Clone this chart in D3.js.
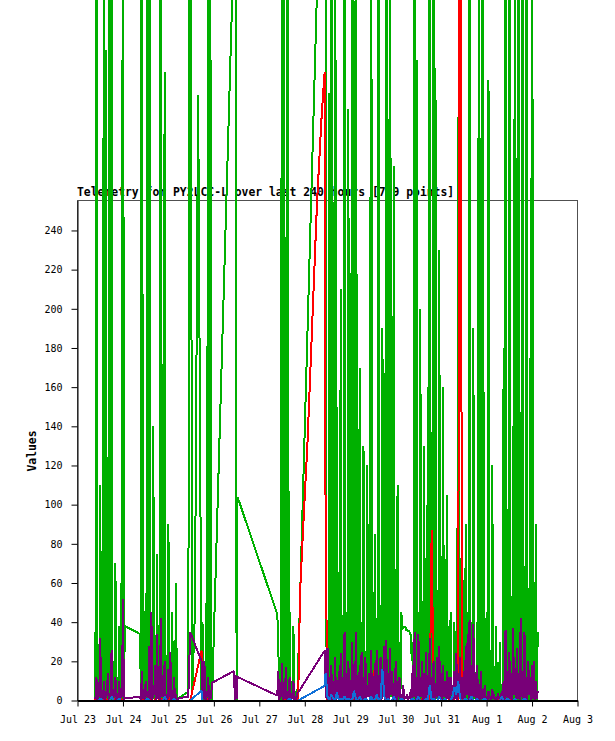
<!DOCTYPE html>
<html><head><meta charset="utf-8">
<script src="https://cdn.jsdelivr.net/npm/d3@7"></script>
<style>html,body{margin:0;padding:0;background:#fff;} svg{display:block;}</style>
</head><body><svg id="c" width="615" height="741"></svg>
<script>
// hours after Jul 23 00:00 (samples of all channels)
const hours = [
  9,10,11,12,13,14,15,16,17,18,19,20,21,22,23,24,25,
  33,34,35,36,37,38,39,40,41,42,43,44,45,46,47,48,49,50,51,52,53,
  58.5,59.5,60.5,62,63.7,65.5,
  66,67,68,69,70,71,
  82.5,83.2,83.5,84,84.5,
  105.5,
  106,107,108,109,110,111,112,113,114,115,116,
  116.5,117.5,119.5,121.5,126.5,129,130.5,
  131,132,133,134,135,136,137,138,139,140,
  141,142,143,144,145,146,147,148,149,150,
  151,152,153,154,155,156,157,158,159,160,
  161,162,163,164,165,166,167,168,169,170,
  171,172,173,174,175,176,177,178,179,180,
  181,182,183,184,185,186,187,188,189,190,
  191,192,193,194,195,196,197,198,199,200,
  201,202,203,204,205,206,207,208,209,210,
  211,212,213,214,215,216,217,218,219,220,
  221,222,223,224,225,226,227,228,229,230,
  231,232,233,234,235,236,237,238,239,240,
  241,242,243
];
// channel 1 (green)
const ch1 = [
  35,600,10,110,5,600,332,20,600,600,20,70,8,38,60,600,38,
  34,600,20,55,600,600,15,140,10,75,25,600,30,321,12,90,20,45,8,60,1,
  4.5,600,3,45,309,0,
  40,5,50,600,600,0,
  null,null,420,0,104,
  44,
  30,20,600,600,10,600,45,10,38,5,0,
  null,null,null,null,null,null,null,
  520,35,310,600,40,600,150,8,210,42,
  600,45,302,18,600,339,600,48,170,40,
  130,15,120,38,600,50,85,42,600,5,
  190,48,600,35,600,42,273,18,110,30,
  45,38,38,36,36,34,30,600,327,45,
  200,42,130,3,160,600,40,600,323,44,
  230,6,160,45,105,38,45,8,40,30,
  298,42,140,8,90,45,600,40,190,5,
  40,600,30,600,20,45,317,10,120,5,
  38,3,30,5,180,600,40,600,45,140,
  600,8,600,48,600,50,600,12,175,600,
  40,90,35
];
// channel 2 (red)
const ch2 = [
  0,1,0,0,2,0,1,0,0,9,0,1,0,0,1,0,0,
  0,0,1,0,0,2,0,0,0,5,0,0,1,0,0,0,3,0,0,0,0,
  0,0,null,null,null,25.5,
  0,0,0,1,0,0,
  0,null,null,null,0,
  0,
  0,0,0,1,0,0,0,0,0,0,0,
  0,55,95,133,255,300,321,
  80,0,1,0,5,0,0,0,1,0,
  0,0,0,0,2,0,10,0,0,0,
  0,1,0,0,0,0,19,0,0,0,
  0,0,0,0,0,0,0,0,0,0,
  0,0,0,0,0,0,0,0,0,0,
  0,1,0,0,0,0,87,0,0,0,
  0,0,0,0,0,0,1,0,0,14,
  0,600,0,0,0,0,0,0,0,0,
  0,0,0,0,0,0,0,0,0,0,
  0,2,0,0,0,0,0,0,3,0,
  0,0,0,0,0,0,0,0,0,0,
  0,0,0
];
// channel 3 (purple)
const ch3 = [
  2,12,3,32,5,10,2,14,4,26,6,12,1,10,3,52,1,
  2,15,3,10,5,28,45,6,18,34,4,42,12,20,3,16,25,5,12,3,1,
  2,35,null,null,null,20,
  5,20,2,12,3,9,
  15,0,13,1,12,
  2.5,
  15,3,19,5,17,2,12,4,10,2,4,
  4,null,null,null,null,null,25.5,
  10,27,12,18,10,22,8,15,24,12,
  35,14,20,10,30,12,35,9,18,25,
  12,22,8,14,26,11,19,26,13,22,
  12,28,31,14,27,15,9,20,10,12,
  3,8,2,3,2,6,18,35,12,34,
  12,20,14,25,13,32,12,20,9,22,
  28,14,18,10,15,12,12,8,15,24,
  14,22,12,15,28,34,41,18,39,14,
  18,4,15,3,8,2,5,2,6,3,
  1,4,1,5,10,36,15,25,14,37,
  15,27,14,42,15,35,12,20,12,18,
  20,10,5
];
// channel 4 (blue)
const ch4 = [
  0,0,0,1,0,0,0,0,0,2,0,0,0,1,0,0,0,
  0,0,0,0,1,0,0,0,0,0,0,0,0,2,0,0,0,0,1,0,0,
  0,0,null,null,null,5,
  0,0,0,0,0,0,
  0,null,null,null,0,
  0,
  0,0,0,0,0,0,1,0,0,0,0,
  0,null,null,null,null,null,7.5,
  14,2,0,3,1,0,4,0,1,0,
  2,0,1,0,0,5,1,0,2,0,
  0,1,0,0,2,0,0,3,0,1,
  16,2,0,1,0,0,2,0,0,0,
  1,0,0,0,0,0,1,0,0,2,
  0,0,0,1,0,8,0,1,0,0,
  2,0,0,1,0,0,0,2,7,3,
  10,1,0,0,1,0,0,2,0,0,
  1,0,0,0,1,0,0,0,0,0,
  0,0,0,2,0,0,1,0,0,0,
  1,0,0,0,0,1,0,0,0,0,
  0,0,0
];
// extra half-hour samples reported only by channels 1 and 3
const halfHours = [
  9.5,10.5,11.5,12.5,13.5,14.5,15.5,16.5,17.5,18.5,19.5,20.5,21.5,22.5,23.5,24.5,
  33.5,34.5,35.5,36.5,37.5,38.5,39.5,40.5,41.5,42.5,43.5,44.5,45.5,46.5,47.5,48.5,49.5,50.5,51.5,52.5,
  66.5,67.5,68.5,69.5,70.5,
  106.5,107.5,108.5,109.5,110.5,111.5,112.5,113.5,114.5,115.5,
  131.5,132.5,133.5,134.5,135.5,136.5,137.5,138.5,139.5,140.5,
  141.5,142.5,143.5,144.5,145.5,146.5,147.5,148.5,149.5,150.5,
  151.5,152.5,153.5,154.5,155.5,156.5,157.5,158.5,159.5,160.5,
  161.5,162.5,163.5,164.5,165.5,166.5,167.5,168.5,169.5,170.5,
  171.5,172.5,173.5,174.5,175.5,176.5,177.5,178.5,179.5,180.5,
  181.5,182.5,183.5,184.5,185.5,186.5,187.5,188.5,189.5,190.5,
  191.5,192.5,193.5,194.5,195.5,196.5,197.5,198.5,199.5,200.5,
  201.5,202.5,203.5,204.5,205.5,206.5,207.5,208.5,209.5,210.5,
  211.5,212.5,213.5,214.5,215.5,216.5,217.5,218.5,219.5,220.5,
  221.5,222.5,223.5,224.5,225.5,226.5,227.5,228.5,229.5,230.5,
  231.5,232.5,233.5,234.5,235.5,236.5,237.5,238.5,239.5,240.5,
  241.5,242.5
];
const ch1Half = [
  0,2,1,0,3,1,0,2,0,1,0,3,0,2,1,0,
  1,0,2,0,1,3,0,1,0,2,0,1,0,3,0,1,2,0,1,0,
  0,2,1,0,1,
  1,0,2,0,1,3,0,1,0,2,
  2,0,1,0,3,0,1,2,0,1,
  0,2,0,1,0,3,0,1,2,0,
  1,0,2,0,1,0,3,0,1,0,
  2,0,1,0,2,0,1,3,0,1,
  36,37,36,35,34,20,1,0,2,0,
  1,0,2,0,1,0,3,0,1,0,
  2,0,1,0,3,0,1,0,2,0,
  1,0,2,0,1,0,3,0,1,0,
  0,2,0,1,0,3,0,1,0,2,
  0,1,0,2,0,1,0,3,0,1,
  2,0,1,0,3,0,1,0,2,0,
  1,0
];
const ch3Half = [
  1,0,2,0,1,0,3,0,1,0,2,0,1,0,2,0,
  0,1,0,2,0,1,0,3,0,1,0,2,0,1,0,2,0,1,0,0,
  1,0,2,0,1,
  0,2,0,1,0,3,0,1,0,0,
  1,0,2,0,1,0,3,0,1,0,
  2,0,1,0,3,0,1,0,2,0,
  1,0,2,0,1,0,3,0,1,0,
  2,0,1,0,3,0,1,0,2,0,
  1,0,1,0,1,0,2,0,1,0,
  2,0,1,0,3,0,1,0,2,0,
  1,0,2,0,1,0,3,0,1,0,
  2,0,1,0,3,0,1,0,2,0,
  1,0,1,0,1,0,1,0,1,0,
  0,1,0,1,0,2,0,1,0,3,
  0,1,0,2,0,1,0,3,0,1,
  0,1
];
const xTickLabels = ["Jul 23","Jul 24","Jul 25","Jul 26","Jul 27","Jul 28","Jul 29","Jul 30","Jul 31","Aug 1","Aug 2","Aug 3"];
const yTickValues = [0,20,40,60,80,100,120,140,160,180,200,220,240];
const titleText = "Telemetry for PY2LCC-L over last 240 hours [769 points]";
const yLabel = "Values";

const seriesList = [
  {values: ch1, half: ch1Half, color: "#00b000"},
  {values: ch2, half: null, color: "#ff0000"},
  {values: ch3, half: ch3Half, color: "#780078"},
  {values: ch4, half: null, color: "#1070d8"}
];

const svg = d3.select("#c");
const t0 = Date.UTC(2024, 6, 23);
const parse = d3.utcParse("%b %e %Y");
const tickDates = xTickLabels.map(l => parse(l + " 2024"));
const x = d3.scaleUtc().domain([tickDates[0], tickDates[tickDates.length - 1]]).range([77.5, 577.5]);
const y = d3.scaleLinear().domain([0, 255.3]).range([700.5, 200.5]);
const mono = "'DejaVu Sans Mono', 'Liberation Mono', monospace";

svg.append("text").attr("x", 77).attr("y", 196)
  .attr("font-family", mono).attr("font-weight", "bold").attr("font-size", 11.4)
  .attr("fill", "#000").text(titleText);

svg.append("rect").attr("x", 77.5).attr("y", 200.5).attr("width", 500).attr("height", 500)
  .attr("fill", "none").attr("stroke", "#505050").attr("stroke-width", 1);

svg.append("text").attr("transform", "translate(36,451) rotate(-90)")
  .attr("text-anchor", "middle")
  .attr("font-family", mono).attr("font-weight", "bold").attr("font-size", 11.4)
  .attr("fill", "#000").text(yLabel);

const line = d3.line().x(d => x(d.t)).y(d => y(d.v));
seriesList.forEach(s => {
  const pts = [];
  hours.forEach((h, i) => {
    const v = s.values[i];
    if (v !== null && v !== undefined) pts.push({h: h, v: v});
  });
  if (s.half) halfHours.forEach((h, i) => pts.push({h: h, v: s.half[i]}));
  pts.sort((a, b) => a.h - b.h);
  pts.forEach(p => p.t = new Date(t0 + p.h * 3600e3));
  svg.append("path").datum(pts).attr("d", line)
    .attr("fill", "none").attr("stroke", s.color).attr("stroke-width", 2)
    .attr("stroke-linejoin", "miter").attr("stroke-miterlimit", 1)
    .attr("shape-rendering", "crispEdges");
});

const xAxis = d3.axisBottom(x).tickValues(tickDates).tickFormat((d, i) => xTickLabels[i])
  .tickSize(6).tickPadding(9).tickSizeOuter(0);
const gx = svg.append("g").attr("transform", "translate(0,700.5)").call(xAxis);
gx.select(".domain").attr("stroke", "#000").attr("stroke-width", 2);
gx.selectAll(".tick line").attr("stroke", "#000");
gx.selectAll("text").attr("font-family", mono).attr("font-size", 10).attr("fill", "#000");

const yAxis = d3.axisLeft(y).tickValues(yTickValues).tickSize(6).tickPadding(9).tickSizeOuter(0);
const gy = svg.append("g").attr("transform", "translate(77.5,0)").call(yAxis);
gy.select(".domain").attr("stroke", "#000");
gy.selectAll(".tick line").attr("stroke", "#000");
gy.selectAll("text").attr("font-family", mono).attr("font-size", 10).attr("fill", "#000");
</script></body></html>
